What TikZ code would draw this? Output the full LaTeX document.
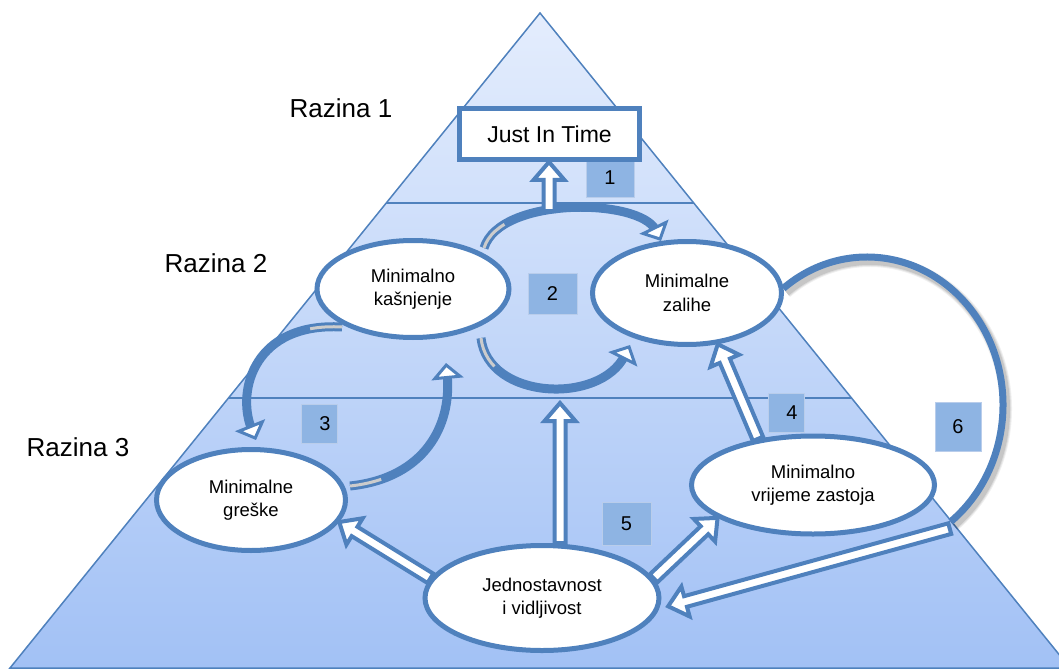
\documentclass[tikz,border=0pt]{standalone}
\usepackage{fontspec}
\setmainfont{Liberation Sans}
\usetikzlibrary{calc,arrows.meta,shapes.geometric}
\definecolor{bl}{RGB}{79,129,189}
\definecolor{sq}{RGB}{142,180,227}
\definecolor{sqb}{RGB}{185,205,235}
\definecolor{gtop}{RGB}{228,237,253}
\definecolor{gbot}{RGB}{162,193,245}
\pgfdeclarelayer{bg}
\pgfdeclarelayer{mid}
\pgfsetlayers{bg,mid,main}
\newcommand{\BArrow}[2]{%
  \path (#1) coordinate (bS) (#2) coordinate (bT);
  \path ($(bT)!18pt!(bS)$) coordinate (bH);
  \draw[barrow] ($(bS)!5.5pt!90:(bT)$) -- ($(bH)!5.5pt!90:(bT)$) -- ($(bH)!15.5pt!90:(bT)$) -- (bT) -- ($(bH)!15.5pt!-90:(bT)$) -- ($(bH)!5.5pt!-90:(bT)$) -- ($(bS)!5.5pt!-90:(bT)$) -- cycle;
}
\newcommand{\CArrow}[4]{%
  \draw[cbody] (#1) .. controls (#2) and (#3) .. (#4);
  \draw[chead] (#1) .. controls (#2) and (#3) .. (#4);
  \draw[sliver] (#1) .. controls (#2) and (#3) .. (#4);
}
\begin{document}
\begin{tikzpicture}[x=1pt,y=-1pt,
  ell/.style={ellipse, draw=bl, line width=5pt, fill=white, inner sep=0pt, align=center, font=\fontsize{18.5}{23.5}\selectfont},
  barrow/.style={draw=bl, fill=white, line width=4pt, line join=miter},
  cbody/.style={draw=bl, line width=9pt, shorten >=12pt},
  chead/.style={draw=bl, line width=3pt, -{Triangle[length=16pt,width=32pt,fill=white]}},
  sliver/.style={draw=black!20, line width=3pt, dash pattern=on 32pt off 3000pt},
  numbox/.style={fill=sq, draw=sqb, line width=1pt, inner sep=0pt, font=\fontsize{20}{24}\selectfont},
  lvl/.style={font=\fontsize{26}{30}\selectfont, inner sep=0pt},
  sep/.style={draw=bl, line width=1.3pt}]
\useasboundingbox (0,0) rectangle (1059,671);
% nodes
\node[lvl] (r1) at (341,108) {Razina 1};
\node[lvl] (r2) at (216,263) {Razina 2};
\node[lvl] (r3) at (78,447) {Razina 3};
\node[draw=bl, line width=5pt, fill=white, minimum width=180pt, minimum height=51pt, inner sep=0pt, font=\fontsize{23}{27}\selectfont] (jit) at (549.5,134) {Just In Time};
\node[ell, minimum width=192pt, minimum height=97pt] (mk) at (413,289) {Minimalno\\kašnjenje};
\node[ell, minimum width=189pt, minimum height=103pt] (mz) at (687,293) {Minimalne\\zalihe};
\node[ell, minimum width=189pt, minimum height=101pt] (mg) at (251,500) {Minimalne\\greške};
\node[ell, minimum width=243pt, minimum height=98pt] (mv) at (813,485) {Minimalno\\vrijeme zastoja};
\node[ell, minimum width=234pt, minimum height=105pt] (jv) at (542,598) {Jednostavnost\\i vidljivost};
% background
\begin{pgfonlayer}{bg}
\begin{scope}
\clip (0,0) rectangle (1059,671);
\draw[draw=bl, line width=1.5pt, top color=gtop, bottom color=gbot] (540,13) -- (1070,668) -- (10,668) -- cycle;
\end{scope}
\draw[sep] (386.3,203) -- (693.7,203);
\draw[sep] (228.5,398) -- (851.5,398);
\end{pgfonlayer}
% connectors
\begin{pgfonlayer}{mid}
\node[numbox, minimum width=48pt, minimum height=39pt] (n1) at (610,178) {1};
\node[numbox, minimum width=49pt, minimum height=41pt] (n2) at (552.5,293.5) {2};
\node[numbox, minimum width=36pt, minimum height=39pt] (n3) at (319,423.5) {\hspace*{12pt}3};
\node[numbox, minimum width=36pt, minimum height=39pt] (n4) at (786,412.5) {\hspace*{12pt}4};
\node[numbox, minimum width=49pt, minimum height=43pt] (n5) at (626.5,523.5) {5};
\node[numbox, minimum width=46pt, minimum height=49pt] (n6) at (958,426.5) {6};
% arc 6 with soft shadow
\foreach \w/\o in {12/0.06,10/0.08,8/0.1}{
  \draw[black, opacity=\o, line width=\w pt, shift={(3,4)}] ($(867,405)+(-128:136 and 148)$) arc[start angle=-128, end angle=52, x radius=136, y radius=148];
}
\draw[bl, line width=7pt] ($(867,405)+(-128:136 and 148)$) arc[start angle=-128, end angle=52, x radius=136, y radius=148] coordinate (a6end);
% curved arrows
\coordinate (ta) at (484,248); \coordinate (tb) at (661,241);
\coordinate (ba) at (481,338); \coordinate (bb) at (630,345);
\coordinate (la) at (342,327); \coordinate (lb) at (256,440);
\coordinate (ra) at (350,486); \coordinate (rb) at (446,363);
\CArrow{ta}{500,196}{640,198}{tb}
\CArrow{ba}{488,400}{600,405}{bb}
\CArrow{la}{255,322}{236,390}{lb}
\CArrow{ra}{425,478}{452,425}{rb}
% straight block arrows
\coordinate (c1) at (549,211);
\coordinate (c5) at (560,403);
\BArrow{c1}{c1 |- jit.south}
\BArrow{c5 |- jv.north}{c5}
\BArrow{jv.170}{mg.-14}
\BArrow{jv.10}{mv.199}
\BArrow{mv.140}{mz.-59}
\BArrow{$(a6end)+(-1,7)$}{$(jv.-4)+(8,0)$}
\end{pgfonlayer}
\end{tikzpicture}
\end{document}
